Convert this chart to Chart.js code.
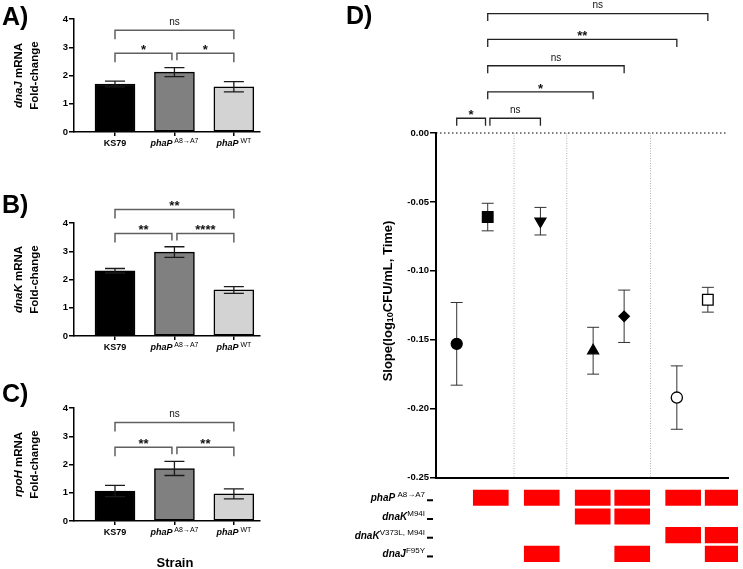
<!DOCTYPE html>
<html lang="en">
<head>
<meta charset="UTF-8">
<meta name="viewport" content="width=device-width, initial-scale=1.0">
<title>Chaperone expression and killing slopes</title>
<script src="https://cdn.jsdelivr.net/npm/chart.js@4.4.1/dist/chart.umd.min.js"></script>
<style>
    html, body { margin: 0; padding: 0; background: #fff; }
    #fig { position: relative; width: 743px; height: 569px; overflow: hidden; }
    .layer { position: absolute; left: 0; top: 0; width: 743px; height: 569px; }
</style>
</head>
<body>
<div id="fig">
    <div class="layer"><canvas id="chartA"></canvas></div>
    <div class="layer"><canvas id="chartB"></canvas></div>
    <div class="layer"><canvas id="chartC"></canvas></div>
    <div class="layer"><canvas id="chartD"></canvas></div>
    <div class="layer"><canvas id="chartGrid"></canvas></div>
</div>

<script>
// ---- data: panels A-C (qPCR fold-change) ----
const strains = ['KS79', 'phaP^ A8\u2192A7', 'phaP^ WT'];

const dnaJFold = [1.70, 2.12, 1.60];
const dnaJErr  = [0.10, 0.16, 0.18];
const dnaKFold = [2.31, 2.97, 1.63];
const dnaKErr  = [0.08, 0.19, 0.12];
const rpoHFold = [1.06, 1.86, 0.96];
const rpoHErr  = [0.20, 0.25, 0.18];

// comparisons [from, to, label]
const dnaJComps = [[0, 2, 'ns'], [0, 1, '*'], [1, 2, '*']];
const dnaKComps = [[0, 2, '**'], [0, 1, '**'], [1, 2, '****']];
const rpoHComps = [[0, 2, 'ns'], [0, 1, '**'], [1, 2, '**']];

// ---- data: panel D (slopes) ----
const slopeStrains = ['KS79', 'phaP', 'phaP dnaJ', 'phaP dnaK M94I', 'phaP dnaK M94I dnaJ',
                      'phaP dnaK V373L M94I', 'phaP dnaK V373L M94I dnaJ'];
const slopeGroup = [0, 0, 1, 2, 2, 3, 3];
const slopeMean  = [-0.153, -0.061, -0.064, -0.158, -0.133, -0.192, -0.121];
const slopeErr   = [0.030, 0.010, 0.010, 0.017, 0.019, 0.023, 0.009];
const slopeComps = [[1, 6, 'ns'], [1, 5, '**'], [1, 4, 'ns'], [1, 3, '*'], [0, 1, '*'], [1, 2, 'ns']];

// genotype table under panel D (1 = mutation present)
const genotypeRows = ['phaP^ A8\u2192A7', 'dnaK^M94I', 'dnaK^V373L, M94I', 'dnaJ^F95Y'];
const hasPhaP      = [0, 1, 1, 1, 1, 1, 1];
const hasDnaKM94I  = [0, 0, 0, 1, 1, 0, 0];
const hasDnaKV373L = [0, 0, 0, 0, 0, 1, 1];
const hasDnaJF95Y  = [0, 0, 1, 0, 1, 0, 1];

// ---- layout / style ----
const FONT = '"Liberation Sans", Arial, sans-serif';
const W = 743, H = 569;
const barColors = ['#000000', '#808080', '#d3d3d3'];

function richParts(label, size, supSize, supDy) {
    const i = label.indexOf('^');
    if (i < 0) return [{ t: label, f: `bold ${size}px ${FONT}`, dy: 0 }];
    return [
        { t: label.slice(0, i), f: `italic bold ${size}px ${FONT}`, dy: 0 },
        { t: label.slice(i + 1), f: `${supSize}px ${FONT}`, dy: supDy }
    ];
}

function drawParts(ctx, parts, x, y, align) {
    let w = 0;
    parts.forEach(p => { ctx.font = p.f; p.w = ctx.measureText(p.t).width; w += p.w; });
    let cx = align === 'center' ? x - w / 2 : align === 'right' ? x - w : x;
    ctx.textAlign = 'left';
    parts.forEach(p => { ctx.font = p.f; ctx.fillText(p.t, cx, y + p.dy); cx += p.w; });
}

const errorBarPlugin = {
    id: 'errBars',
    draw(chart, opts) {
        const { ctx, scales: { x, y } } = chart;
        const pts = chart.data.datasets[0].data;
        ctx.save();
        ctx.strokeStyle = opts.color;
        ctx.lineWidth = opts.width;
        pts.forEach((p, i) => {
            const px = x.getPixelForValue(p.x);
            const top = y.getPixelForValue(p.y + opts.errors[i]);
            const bot = y.getPixelForValue(p.y - opts.errors[i]);
            ctx.beginPath();
            ctx.moveTo(px, top); ctx.lineTo(px, bot);
            ctx.moveTo(px - opts.cap, top); ctx.lineTo(px + opts.cap, top);
            ctx.moveTo(px - opts.cap, bot); ctx.lineTo(px + opts.cap, bot);
            ctx.stroke();
        });
        ctx.restore();
    },
    beforeDatasetsDraw(chart, args, opts) { if (opts.behind) this.draw(chart, opts); },
    afterDatasetsDraw(chart, args, opts) { if (!opts.behind) this.draw(chart, opts); }
};

const bracketPlugin = {
    id: 'brackets',
    afterDraw(chart, args, opts) {
        const { ctx, scales: { x, y } } = chart;
        const pos = opts.pos || (v => v);
        ctx.save();
        ctx.lineWidth = opts.width;
        opts.pairs.forEach(([a, b, label], k) => {
            const lvl = opts.levels[k];
            const shared = c => opts.pairs.some(([a2, b2], j) =>
                j !== k && opts.levels[j] === lvl && (a2 === c || b2 === c));
            const yy = y.getPixelForValue(lvl);
            const x1 = x.getPixelForValue(pos(a)) + (shared(a) ? opts.gap : 0);
            const x2 = x.getPixelForValue(pos(b)) - (shared(b) ? opts.gap : 0);
            const l1 = shared(a) ? opts.shortLeg : opts.leg;
            const l2 = shared(b) ? opts.shortLeg : opts.leg;
            ctx.strokeStyle = opts.color;
            ctx.beginPath();
            ctx.moveTo(x1, yy + l1); ctx.lineTo(x1, yy); ctx.lineTo(x2, yy); ctx.lineTo(x2, yy + l2);
            ctx.stroke();
            ctx.fillStyle = '#111';
            ctx.textAlign = 'center';
            if (label.includes('*')) {
                ctx.font = `bold 13px ${FONT}`;
                ctx.textBaseline = 'alphabetic';
                ctx.fillText(label, (x1 + x2) / 2, yy + 1);
            } else {
                ctx.font = `10px ${FONT}`;
                ctx.textBaseline = 'middle';
                ctx.fillText(label, (x1 + x2) / 2, yy - 8);
            }
        });
        ctx.restore();
    }
};

const catLabelPlugin = {
    id: 'catLabels',
    afterDraw(chart, args, opts) {
        const { ctx, chartArea, scales: { x } } = chart;
        ctx.save();
        ctx.fillStyle = '#000';
        ctx.textBaseline = 'alphabetic';
        opts.labels.forEach((lab, i) =>
            drawParts(ctx, richParts(lab, 9, 7, -3.5), x.getPixelForValue(i), chartArea.bottom + 14, 'center'));
        ctx.restore();
    }
};

function makeBarPanel(id, values, errs, comps, levels, area) {
    const yW = 30;
    return new Chart(document.getElementById(id), {
        type: 'bar',
        data: {
            datasets: [{
                data: values.map((v, i) => ({ x: i, y: v })),
                backgroundColor: barColors,
                borderColor: '#000',
                borderWidth: 1.5,
                borderSkipped: false,
                barThickness: 40
            }]
        },
        options: {
            responsive: true,
            maintainAspectRatio: false,
            animation: false,
            layout: { padding: { left: area.left - yW, top: area.top, right: W - area.right, bottom: H - area.bottom } },
            plugins: {
                legend: { display: false },
                tooltip: { enabled: false },
                errBars: { errors: errs, cap: 10, color: '#1a1a1a', width: 1.3, behind: false },
                brackets: { pairs: comps, levels: levels, leg: 9, shortLeg: 7, gap: 2.5, color: '#606060', width: 1.5 },
                catLabels: { labels: strains }
            },
            scales: {
                x: {
                    type: 'linear', min: -0.69, max: 2.44, offset: false,
                    afterFit: s => { s.height = 0; },
                    afterBuildTicks: s => { s.ticks = values.map((_, i) => ({ value: i })); },
                    ticks: { display: false },
                    grid: { display: true, offset: false, drawOnChartArea: false, drawTicks: true, tickLength: 4, color: '#000', lineWidth: 1.5 },
                    border: { color: '#000', width: 1.5 }
                },
                y: {
                    min: 0, max: 4,
                    afterFit: s => { s.width = yW; },
                    ticks: { stepSize: 1, color: '#000', padding: 1, font: { family: FONT, size: 9.5, weight: 'bold' } },
                    grid: { drawOnChartArea: false, tickLength: 5, color: '#000', lineWidth: 1.5 },
                    border: { color: '#000', width: 1.5 }
                }
            }
        },
        plugins: [errorBarPlugin, bracketPlugin, catLabelPlugin]
    });
}

makeBarPanel('chartA', dnaJFold, dnaJErr, dnaJComps, [3.60, 2.79, 2.79], { left: 74, top: 19, right: 260, bottom: 132 });
makeBarPanel('chartB', dnaKFold, dnaKErr, dnaKComps, [4.48, 3.63, 3.63], { left: 74, top: 223, right: 260, bottom: 336 });
makeBarPanel('chartC', rpoHFold, rpoHErr, rpoHComps, [3.49, 2.61, 2.61], { left: 74, top: 408, right: 260, bottom: 521 });

// ---- panel D ----
const GROUP_GAP = 0.7;
const slopeX = slopeMean.map((_, i) => i + GROUP_GAP * slopeGroup[i]);

const slopeGuidePlugin = {
    id: 'slopeGuides',
    beforeDatasetsDraw(chart) {
        const { ctx, chartArea, scales: { x, y } } = chart;
        const y0 = y.getPixelForValue(0);
        ctx.save();
        ctx.lineWidth = 1;
        ctx.strokeStyle = '#b0b0b0';
        ctx.setLineDash([1, 1.5]);
        for (let i = 1; i < slopeX.length; i++) {
            if (slopeGroup[i] === slopeGroup[i - 1]) continue;
            const px = x.getPixelForValue((slopeX[i] + slopeX[i - 1]) / 2);
            ctx.beginPath(); ctx.moveTo(px, y0); ctx.lineTo(px, chartArea.bottom); ctx.stroke();
        }
        ctx.strokeStyle = '#000';
        ctx.setLineDash([1.5, 2.5]);
        ctx.beginPath(); ctx.moveTo(chartArea.left, y0); ctx.lineTo(chartArea.right, y0); ctx.stroke();
        ctx.restore();
    }
};

new Chart(document.getElementById('chartD'), {
    type: 'scatter',
    data: {
        datasets: [{
            data: slopeX.map((x, i) => ({ x: x, y: slopeMean[i] })),
            pointStyle: ['circle', 'rect', 'triangle', 'triangle', 'rectRot', 'circle', 'rect'],
            pointRotation: [0, 0, 180, 0, 0, 0, 0],
            pointRadius: [5.5, 7.5, 6.3, 6.3, 5.2, 5.6, 7.5],
            backgroundColor: ['#000', '#000', '#000', '#000', '#000', '#fff', '#fff'],
            borderColor: '#000',
            borderWidth: 1.3
        }]
    },
    options: {
        responsive: true,
        maintainAspectRatio: false,
        animation: false,
        layout: { padding: { left: 436 - 40, top: 133, right: W - 728, bottom: H - 477.5 } },
        plugins: {
            legend: { display: false },
            tooltip: { enabled: false },
            errBars: { errors: slopeErr, cap: 6, color: '#333', width: 1, behind: true },
            brackets: {
                pairs: slopeComps, levels: [0.0867, 0.0679, 0.0488, 0.0299, 0.0107, 0.0107],
                pos: i => slopeX[i], leg: 7.5, shortLeg: 7.5, gap: 2.2, color: '#222', width: 1.3
            }
        },
        scales: {
            x: {
                type: 'linear', min: -0.668, max: 8.75,
                afterFit: s => { s.height = 0; },
                ticks: { display: false },
                grid: { display: false },
                border: { color: '#000', width: 2 }
            },
            y: {
                min: -0.25, max: 0,
                afterFit: s => { s.width = 40; },
                ticks: {
                    stepSize: 0.05, color: '#000', padding: 1,
                    font: { family: FONT, size: 9.5, weight: 'bold' },
                    callback: v => Math.abs(v) < 1e-9 ? '0.00' : v.toFixed(2)
                },
                grid: { drawOnChartArea: false, tickLength: 6, color: '#000', lineWidth: 1.5 },
                border: { color: '#000', width: 2 }
            }
        }
    },
    plugins: [slopeGuidePlugin, errorBarPlugin, bracketPlugin]
});

// ---- genotype table + figure-level text ----
const GRID_GAP = 0.29;
const gridX = slopeGroup.map((g, i) => i + GRID_GAP * g);
const genotypeMatrix = [hasPhaP, hasDnaKM94I, hasDnaKV373L, hasDnaJF95Y];

const rowLabelPlugin = {
    id: 'rowLabels',
    afterDraw(chart) {
        const { ctx, chartArea, scales: { y } } = chart;
        ctx.save();
        ctx.fillStyle = '#000';
        ctx.strokeStyle = '#000';
        ctx.lineWidth = 2;
        ctx.textBaseline = 'alphabetic';
        genotypeRows.forEach((lab, r) => {
            const cy = y.getPixelForValue(r + 0.5);
            drawParts(ctx, richParts(lab, 10, 8, -4), chartArea.left - 11, cy + 3.5, 'right');
            ctx.beginPath();
            ctx.moveTo(chartArea.left - 9, cy + 2.5);
            ctx.lineTo(chartArea.left - 3, cy + 2.5);
            ctx.stroke();
        });
        ctx.restore();
    }
};

const figureTextPlugin = {
    id: 'figureText',
    afterDraw(chart) {
        const ctx = chart.ctx;
        ctx.save();
        ctx.fillStyle = '#000';
        ctx.textBaseline = 'alphabetic';
        ctx.textAlign = 'left';
        ctx.font = `bold 25px ${FONT}`;
        [['A)', 2, 25], ['B)', 2, 213], ['C)', 2, 402], ['D)', 346, 24]].forEach(([t, x, y]) => ctx.fillText(t, x, y));

        const rot = (parts, cx, cy) => {
            ctx.save();
            ctx.translate(cx, cy);
            ctx.rotate(-Math.PI / 2);
            ctx.textBaseline = 'middle';
            drawParts(ctx, parts, 0, 0, 'center');
            ctx.restore();
        };
        const fs = 11.5;
        [['dnaJ', 75.5], ['dnaK', 279.5], ['rpoH', 464.5]].forEach(([gene, cy]) => {
            rot([{ t: gene, f: `italic bold ${fs}px ${FONT}`, dy: 0 }, { t: ' mRNA', f: `bold ${fs}px ${FONT}`, dy: 0 }], 19, cy);
            rot([{ t: 'Fold-change', f: `bold ${fs}px ${FONT}`, dy: 0 }], 35, cy);
        });
        rot([
            { t: 'Slope(log', f: `bold 13px ${FONT}`, dy: 0 },
            { t: '10', f: `bold 9px ${FONT}`, dy: 3 },
            { t: 'CFU/mL, Time)', f: `bold 13px ${FONT}`, dy: 0 }
        ], 388, 301);

        ctx.font = `bold 13px ${FONT}`;
        ctx.textAlign = 'center';
        ctx.textBaseline = 'alphabetic';
        ctx.fillText('Strain', 175, 567);
        ctx.restore();
    }
};

new Chart(document.getElementById('chartGrid'), {
    type: 'bar',
    data: {
        datasets: genotypeMatrix.map((row, r) => ({
            label: genotypeRows[r],
            data: gridX.map(x => ({ x: x, y: 1 })),
            backgroundColor: row.map(v => v ? '#ff0000' : 'rgba(0,0,0,0)'),
            borderColor: '#ffffff',
            borderWidth: 1.6,
            borderSkipped: false,
            barThickness: 38.2
        }))
    },
    options: {
        responsive: true,
        maintainAspectRatio: false,
        animation: false,
        layout: { padding: { left: 436, top: 488.4, right: W - 738, bottom: H - 563.3 } },
        plugins: { legend: { display: false }, tooltip: { enabled: false } },
        scales: {
            x: { type: 'linear', display: false, stacked: true, offset: false, min: -0.387, max: 7.258 },
            y: { display: false, stacked: true, min: 0, max: 4, reverse: true }
        }
    },
    plugins: [rowLabelPlugin, figureTextPlugin]
});
</script>
</body>
</html>
